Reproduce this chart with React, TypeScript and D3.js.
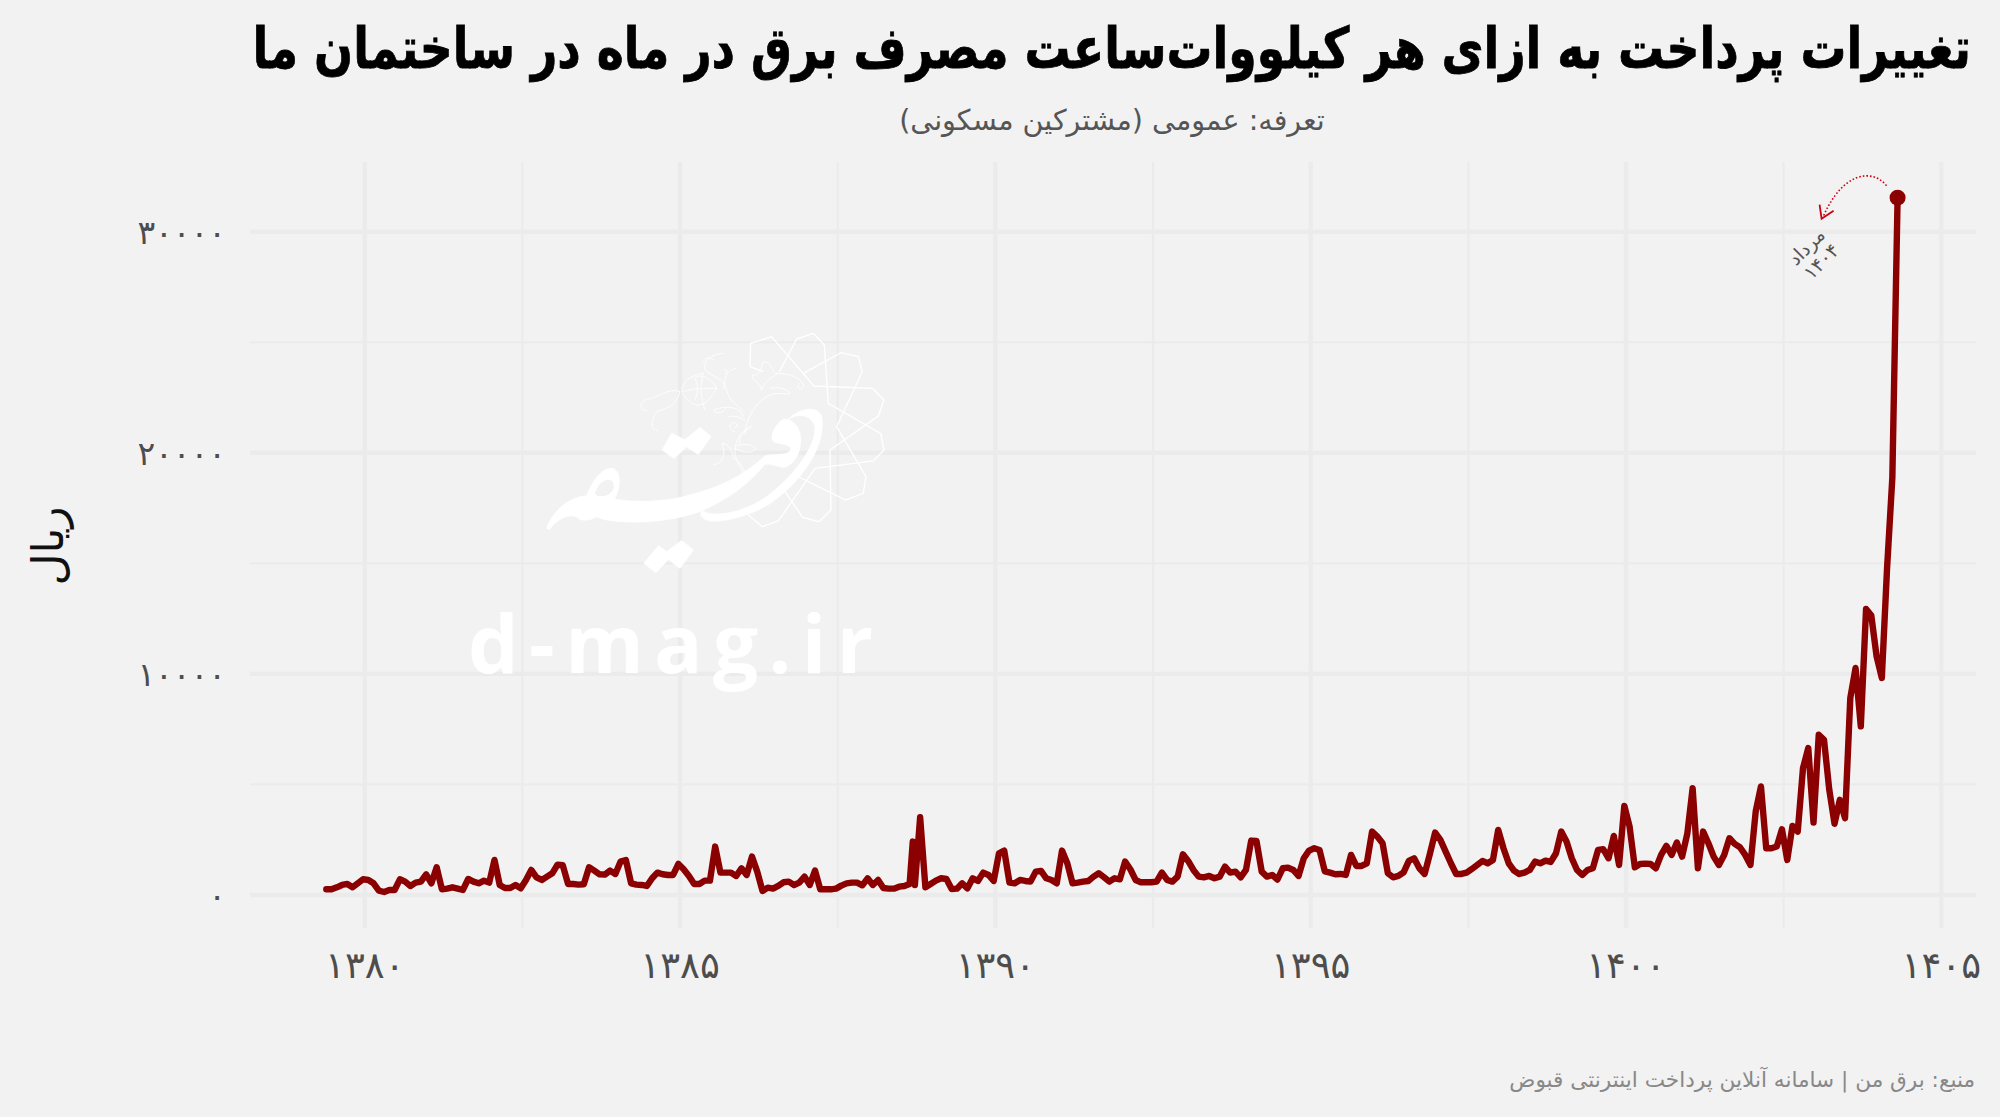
import * as d3 from "d3";
import { useEffect, useRef } from "react";

const title = "تغییرات پرداخت به ازای هر کیلووات‌ساعت مصرف برق در ماه در ساختمان ما";
const subtitle = "تعرفه: عمومی (مشترکین مسکونی)";
const yAxisTitle = "ریال";
const source = "منبع: برق من | سامانه آنلاین پرداخت اینترنتی قبوض";
const watermark = "d-mag.ir";
const noteLines = ["مرداد", "۱۴۰۴"];

const xMajorTicks = [1380, 1385, 1390, 1395, 1400, 1405];
const xMinorTicks = [1382.5, 1387.5, 1392.5, 1397.5, 1402.5];
const xTickLabels = ["۱۳۸۰", "۱۳۸۵", "۱۳۹۰", "۱۳۹۵", "۱۴۰۰", "۱۴۰۵"];
const yMajorTicks = [0, 10000, 20000, 30000];
const yMinorTicks = [5000, 15000, 25000];
const yTickLabels = ["۰", "۱۰۰۰۰", "۲۰۰۰۰", "۳۰۰۰۰"];

// monthly bills, first one is about 1379.4
const firstPeriod = 1379.39;
const payments = [
  257, 257, 347, 453, 498, 347, 528, 710, 680, 528,
  196, 136, 226, 226, 710, 604, 408, 559, 604, 936,
  528, 1253, 257, 287, 347, 287, 226, 725, 604, 528,
  649, 559, 1585, 453, 317, 317, 453, 302, 680, 1132,
  800, 680, 830, 981, 1374, 1344, 498, 498, 468, 483,
  1253, 1102, 936, 921, 1102, 951, 1510, 1585, 528, 468,
  453, 408, 755, 1012, 936, 906, 906, 1404, 1163, 861,
  498, 498, 649, 649, 2190, 1012, 1012, 1012, 861, 1208,
  906, 1737, 1057, 181, 332, 287, 408, 574, 604, 453,
  559, 830, 453, 1102, 257, 257, 257, 287, 423, 528,
  559, 559, 438, 755, 453, 680, 317, 287, 287, 377,
  408, 498, 450, 3518, 347, 498, 649, 755, 725, 272,
  287, 528, 302, 755, 634, 1012, 906, 634, 1887, 2008,
  559, 528, 680, 634, 604, 1057, 1087, 755, 680, 528,
  2008, 1434, 528, 559, 604, 634, 830, 981, 800, 604,
  755, 710, 1510, 1163, 680, 574, 574, 574, 604, 1012,
  680, 604, 830, 1842, 1540, 1132, 830, 800, 860, 755,
  830, 1283, 1012, 1057, 800, 1132, 2461, 2446, 1057, 830,
  906, 700, 1208, 1238, 1132, 860, 1661, 2008, 2114, 2038,
  1072, 1012, 936, 951, 906, 1812, 1314, 1314, 1434, 2869,
  2642, 2340, 981, 800, 860, 1027, 1540, 1661, 1208, 951,
  1857, 2824, 2491, 1963, 1434, 951, 951, 1012, 1178, 1359,
  1540, 1434, 1585, 2944, 2114, 1434, 1102, 951, 1012, 1132,
  1510, 1434, 1555, 1495, 1887, 2869, 2416, 1661, 1132, 906,
  1132, 1208, 2038, 2069, 1661, 2673, 1359, 4032, 3095, 1253,
  1404, 1419, 1404, 1208, 1812, 2220, 1812, 2371, 1737, 2794,
  4832, 1208, 2869, 2340, 1737, 1359, 1812, 2567, 2310, 2159,
  1812, 1359, 3775, 4907, 2114, 2114, 2190, 2975, 1585, 3126,
  2869, 5738, 6644, 3277, 7248, 7021, 4756, 3216, 4304, 3473,
  8909, 10268, 7625, 12941, 12639, 10797, 9815, 14800, 18870, 31538,
];
// one extra bill in the 1388 spike, it falls between two months
const extraIndex = 111.6;
const extraValue = 2416;

const width = 2000;
const height = 1117;
const bg = "#f2f2f2";
const grid = "#ebebeb";
const lineColor = "#8b0000";
const font = "'DejaVu Sans', sans-serif";
const thinFont = "'DejaVu Sans ExtraLight', 'DejaVu Sans', sans-serif";

const App = () => {
  const ref = useRef<SVGSVGElement | null>(null);

  useEffect(() => {
    const svg = d3.select(ref.current);
    svg.selectAll("*").remove();

    const x = d3.scaleLinear().domain([1378.18, 1405.55]).range([250, 1976]);
    const y = d3.scaleLinear().domain([-1493, 33152]).range([928, 162]);

    const points = payments.map((v, i) => ({ t: firstPeriod + i / 12, v }));
    points.push({ t: firstPeriod + extraIndex / 12, v: extraValue });
    points.sort((a, b) => a.t - b.t);
    const last = points[points.length - 1];

    svg.append("rect").attr("width", width).attr("height", height).attr("fill", bg);

    // grid
    const gridG = svg.append("g").attr("stroke", grid).attr("fill", "none");
    const hLine = (ticks: number[], w: number) =>
      gridG.append("g").attr("stroke-width", w).selectAll("line").data(ticks).join("line")
        .attr("x1", 250).attr("x2", 1976).attr("y1", (d) => y(d)).attr("y2", (d) => y(d));
    const vLine = (ticks: number[], w: number) =>
      gridG.append("g").attr("stroke-width", w).selectAll("line").data(ticks).join("line")
        .attr("y1", 162).attr("y2", 928).attr("x1", (d) => x(d)).attr("x2", (d) => x(d));
    hLine(yMinorTicks, 2.2);
    vLine(xMinorTicks, 2.2);
    hLine(yMajorTicks, 4.4);
    vLine(xMajorTicks, 4.4);

    // watermark logo, coordinates are from a 3x crop
    const logo = svg.append("g").attr("transform", "translate(450,320) scale(0.3333)");
    const star = [
      "M940,155 L900,140 L902,70 L965,50 L1092,198 L1268,205 L1302,240 L1285,288 L1140,390 L1143,570 L1107,605 L1058,592 L1005,515",
      "M988,155 L1040,57 L1090,40 L1123,75 L1135,250 L1292,340 L1302,390 L1270,423 L1095,445 L985,603 L937,620 L895,585",
      "M1060,160 L1173,98 L1225,110 L1237,155 L1160,320 L1248,470 L1240,520 L1187,540 L1045,470",
    ];
    logo.append("g").attr("fill", "none").attr("stroke", "#fff").attr("stroke-width", 4)
      .selectAll("path").data(star).join("path").attr("d", (d) => d);
    const vine = [
      "M882,460 C860,420 840,400 870,345 C885,325 905,320 905,318 M885,345 C885,300 920,240 960,225 C985,215 1010,225 1020,220",
      "M880,290 C870,260 830,255 790,270 C800,285 820,280 830,262 M935,210 C930,180 905,190 908,165 C930,170 930,150 940,125 C965,125 965,150 975,160 C1020,160 1060,175 1062,200 C1050,215 1035,200 1050,190",
      "M690,215 C660,200 610,240 590,238 C565,245 570,272 590,272 M625,270 C600,300 600,330 625,332 M690,215 C680,250 660,265 625,272",
      "M820,100 C770,105 760,130 765,150 C790,175 820,170 830,210 C840,250 860,250 880,275 M860,145 C820,150 825,190 820,210 M760,160 C700,170 680,210 710,235 C740,270 770,260 800,205 C780,170 750,160 735,175",
      "M790,435 C820,430 830,400 815,370 C835,370 850,395 850,415 C865,420 880,440 885,460 M855,385 C880,400 910,400 918,385 C900,370 880,372 860,378",
      "M735,175 C745,195 745,215 735,240 M700,215 C725,205 760,205 800,205 M760,160 C755,190 745,205 765,270",
      "M855,335 C835,330 835,310 850,308 C865,308 865,325 852,322 M905,320 C880,335 865,350 870,375 M835,290 C860,285 870,295 885,300",
      "M1020,220 C1010,205 980,200 960,205 M985,160 C960,175 945,185 935,210 M790,120 C775,110 765,115 760,125 M820,150 C830,145 835,155 825,160",
    ];
    logo.append("g").attr("fill", "none").attr("stroke", "#fff").attr("stroke-width", 2.5)
      .selectAll("path").data(vine).join("path").attr("d", (d) => d);
    const strokes = [
      "M290,625 C310,570 360,530 410,528 C425,490 450,447 485,445 C512,450 515,495 493,538 C560,550 660,545 720,525 C800,505 880,470 945,408 C975,400 1005,410 1022,392 C1030,375 1000,372 975,367 C955,360 975,305 1005,298 C1040,300 1058,340 1050,380 C1045,415 1020,440 1000,442 C985,440 965,430 945,432 C900,490 830,540 755,572 C700,595 600,610 520,605 C490,603 460,600 440,590 C420,602 390,605 380,590 C350,580 320,600 298,628 Z",
      "M1015,298 C1050,262 1105,258 1115,290 C1130,380 1050,490 960,550 C900,590 800,612 770,600 C752,592 750,582 755,572 C790,595 880,580 950,530 C1030,470 1100,380 1095,320 C1085,280 1040,280 1015,298 Z",
      "M665,340 L705,360 L750,322 L783,350 L745,403 L710,380 L672,415 L637,390 Z",
      "M625,678 L650,695 L695,662 L730,690 L690,745 L655,718 L618,758 L582,730 Z",
    ];
    logo.append("g").attr("fill", "#fff").attr("stroke", "#fff").attr("stroke-width", 3).attr("stroke-linejoin", "round")
      .selectAll("path").data(strokes).join("path").attr("d", (d) => d);
    logo.append("path").attr("fill", bg)
      .attr("d", "M435,518 C445,490 470,468 488,485 C498,505 485,525 460,528 C445,530 435,525 435,518 Z");

    svg.append("text").text(watermark)
      .attr("x", 468).attr("y", 673)
      .attr("textLength", 405)
      .attr("font-family", "'Open Sans', sans-serif").attr("font-weight", 700)
      .attr("font-size", 80).attr("fill", "#fff");

    // line
    const line = d3.line<{ t: number; v: number }>().x((d) => x(d.t)).y((d) => y(d.v));
    svg.append("path").datum(points).attr("d", line)
      .attr("fill", "none").attr("stroke", lineColor).attr("stroke-width", 6.4)
      .attr("stroke-linejoin", "round").attr("stroke-linecap", "round");
    svg.append("circle").attr("cx", x(last.t)).attr("cy", y(last.v)).attr("r", 8).attr("fill", lineColor);

    // note on the last point
    const px = x(last.t);
    const py = y(last.v);
    const curve = d3.path();
    curve.moveTo(px - 11, py - 12);
    curve.bezierCurveTo(px - 26, py - 30, px - 55, py - 25, px - 74, py + 18);
    svg.append("path").attr("d", curve.toString()).attr("fill", "none")
      .attr("stroke", "#cc0011").attr("stroke-width", 1.6).attr("stroke-dasharray", "1.6 2");
    const head = d3.path();
    head.moveTo(px - 78, py + 7);
    head.lineTo(px - 76, py + 21);
    head.lineTo(px - 64, py + 13);
    svg.append("path").attr("d", head.toString()).attr("fill", "none")
      .attr("stroke", "#cc0011").attr("stroke-width", 1.8);
    const note = svg.append("g").attr("transform", `translate(${px - 90},${py + 50}) rotate(-45)`);
    note.selectAll("text").data(noteLines).join("text").text((d) => d)
      .attr("y", (_, i) => i * 21 + 5)
      .attr("text-anchor", "middle").attr("direction", "rtl")
      .attr("font-family", font).attr("font-size", 19).attr("fill", "#555");

    // tick labels
    svg.append("g").selectAll("text").data(xMajorTicks).join("text")
      .text((_, i) => xTickLabels[i])
      .attr("x", (d) => x(d)).attr("y", 978)
      .attr("text-anchor", "middle")
      .attr("font-family", thinFont).attr("font-size", 37).attr("fill", "#4d4d4d");
    svg.append("g").selectAll("text").data(yMajorTicks).join("text")
      .text((_, i) => yTickLabels[i])
      .attr("x", 226).attr("y", (d) => y(d) + 12)
      .attr("text-anchor", "end")
      .attr("font-family", thinFont).attr("font-size", 33).attr("fill", "#4d4d4d");

    svg.append("text").text(yAxisTitle)
      .attr("transform", "translate(63,546) rotate(-90)")
      .attr("text-anchor", "middle").attr("direction", "rtl")
      .attr("font-family", font).attr("font-size", 44).attr("fill", "#111");

    // titles
    // the title is squeezed to the width of the reference by scaling, not by textLength
    const titleText = svg.append("text").text(title)
      .attr("text-anchor", "start").attr("direction", "rtl")
      .attr("font-family", font).attr("font-weight", 700).attr("font-size", 57)
      .attr("fill", "#000").attr("stroke", "#000").attr("stroke-width", 0.8);
    const titleLength = (titleText.node() as SVGTextElement).getComputedTextLength();
    titleText.attr("transform", `translate(1971,68) scale(${1719 / titleLength},1)`);

    svg.append("text").text(subtitle)
      .attr("x", 1112).attr("y", 130)
      .attr("text-anchor", "middle").attr("direction", "rtl")
      .attr("font-family", font).attr("font-size", 28.6).attr("fill", "#555");
    svg.append("text").text(source)
      .attr("x", 1975).attr("y", 1087)
      .attr("text-anchor", "start").attr("direction", "rtl")
      .attr("font-family", font).attr("font-size", 21.6).attr("fill", "#888");
  }, []);

  return (
    <svg
      ref={ref}
      width={width}
      height={height}
      style={{ position: "absolute", left: 0, top: 0 }}
    />
  );
};

export default App;
